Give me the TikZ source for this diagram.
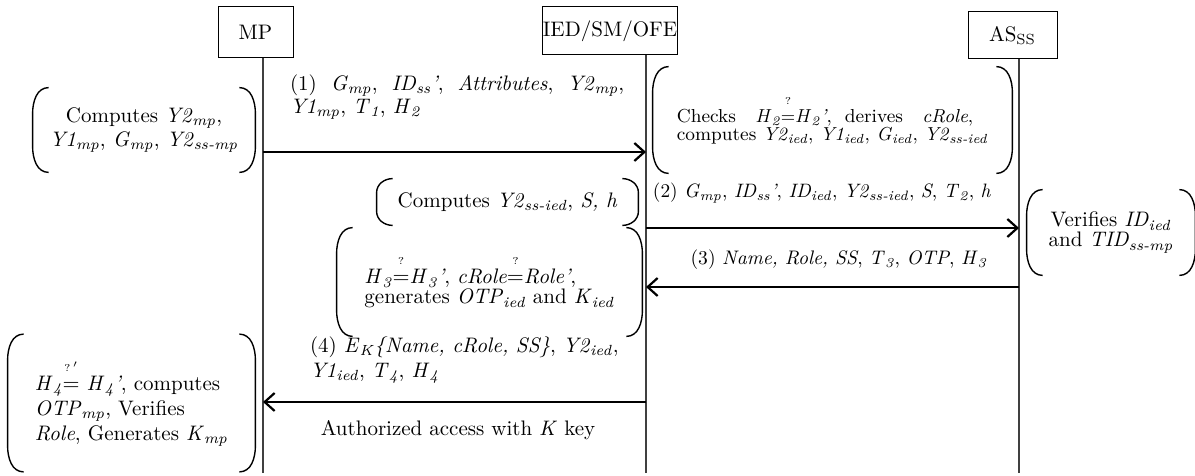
\documentclass[tikz,border=0pt]{standalone}
\usepackage{tikz}
\usetikzlibrary{arrows.meta, positioning}
\newcommand{\vv}[2]{\textit{#1}\textsubscript{\textit{#2}}}
\newcommand{\qeq}[1][?]{\ensuremath{\mathrel{\stackrel{\raisebox{3.5pt}{$\scriptscriptstyle #1$}}{=}}}}

\begin{document}
\begin{tikzpicture}[x=0.5pt, y=-0.5pt, font=\fontsize{10.5}{12}\selectfont,
  actor/.style={draw, line width=0.5pt, inner sep=0pt, align=center},
  lifeline/.style={line width=0.7pt, black!75},
  msg/.style={line width=1.1pt, -{Straight Barb[length=5pt, width=9pt, line width=1.1pt]}},
  bracket/.style={align=center, inner sep=0pt,
    append after command={\pgfextra{
      \draw[line width=0.7pt]
        ([xshift=8pt]\tikzlastnode.north west) to[out=180, in=90]
        ([yshift=-#1]\tikzlastnode.north west) -- ([yshift=#1]\tikzlastnode.south west)
        to[out=-90, in=180] ([xshift=8pt]\tikzlastnode.south west);
      \draw[line width=0.7pt]
        ([xshift=-8pt]\tikzlastnode.north east) to[out=0, in=90]
        ([yshift=-#1]\tikzlastnode.north east) -- ([yshift=#1]\tikzlastnode.south east)
        to[out=-90, in=0] ([xshift=-8pt]\tikzlastnode.south east);}}},
  bracket/.default=13pt]
\useasboundingbox (0,0) rectangle (1195,476);

% parties
\node[actor, minimum width=37.5pt, minimum height=25.5pt] (mp) at (255.5,32.5) {MP};
\node[actor, minimum width=52pt, minimum height=24pt] (ied) at (610,31) {IED/SM/OFE};
\node[actor, minimum width=44.5pt, minimum height=23.5pt] (as) at (1012.5,35.5) {AS\textsubscript{SS}};

\coordinate (mpL) at (263,473);
\coordinate (iedL) at (646,473);
\coordinate (asL) at (1019,473);
\draw[lifeline] (mp.south -| mpL) -- (mpL);
\draw[lifeline] (ied.south -| iedL) -- (iedL);
\draw[lifeline] (as.south -| asL) -- (asL);

% local computations
\node[bracket, minimum width=111pt, minimum height=42pt] (mpcomp) at (144,130)
  {Computes \vv{Y2}{mp},\\ \vv{Y1}{mp}, \vv{G}{mp}, \vv{Y2}{ss-mp}};
\node[bracket, minimum width=179.5pt, minimum height=53pt, align=left,
  font=\fontsize{9.4}{9}\selectfont] (iedchk) at (832.5,120)
  {Checks\ \ \ \vv{H}{2}\qeq\vv{H}{2}\textit{'},\ \ derives\ \ \ \textit{cRole},\\
   computes \vv{Y2}{ied}, \vv{Y1}{ied}, \vv{G}{ied}, \vv{Y2}{ss-ied}};
\node[bracket=7pt, minimum width=130.5pt, minimum height=23pt] (iedcomp) at (507.5,202)
  {Computes \vv{Y2}{ss-ied}, \textit{S, h}};
\node[bracket, minimum width=152.5pt, minimum height=54pt, align=left,
  font=\fontsize{10.5}{10}\selectfont] (iedver) at (489.5,282)
  {\vv{H}{3}\qeq\vv{H}{3}\textit{'}, \textit{cRole}\qeq\textit{Role'},\\
   generates \vv{OTP}{ied} and \vv{K}{ied}};
\node[bracket, minimum width=84pt, minimum height=42.5pt,
  font=\fontsize{10.5}{10}\selectfont] (asver) at (1111,232.5)
  {Verifies \vv{ID}{ied}\\ and \vv{TID}{ss-mp}};
\node[bracket, minimum width=123.5pt, minimum height=68.5pt, align=left,
  font=\fontsize{10.5}{12.5}\selectfont] (mpver) at (131.5,403)
  {\vv{H}{4}\qeq[?\,'] \vv{H}{4}\textit{'}, computes\\
   \vv{OTP}{mp}, Verifies\\ \textit{Role}, Generates \vv{K}{mp}};

% messages
\coordinate (mp1) at (263,152);   \coordinate (ied1) at (646,152);
\coordinate (ied2) at (646,228);  \coordinate (as2) at (1019,228);
\coordinate (as3) at (1019,287);  \coordinate (ied3) at (646,287);
\coordinate (ied4) at (646,402);  \coordinate (mp4) at (263,402);
\draw[msg] (mp1) -- (ied1);
\draw[msg] (ied2) -- (as2);
\draw[msg] (as3) -- (ied3);
\draw[msg] (ied4) -- (mp4);

\node[anchor=west, align=left, font=\fontsize{10.5}{10}\selectfont] (m1) at (283,97)
  {(1)\ \ \vv{G}{mp},\ \ \vv{ID}{ss}\textit{'},\ \ \textit{Attributes},\ \ \vv{Y2}{mp},\\
   \vv{Y1}{mp}, \vv{T}{1}, \vv{H}{2}};
\node[font=\fontsize{9.7}{11}\selectfont] (m2) at (822,193)
  {(2) \vv{G}{mp}, \vv{ID}{ss}\textit{'}, \vv{ID}{ied}, \vv{Y2}{ss-ied}, \textit{S}, \vv{T}{2}, \textit{h}};
\node[font=\fontsize{9.8}{11}\selectfont] (m3) at (839,260)
  {(3) \textit{Name, Role, SS}, \vv{T}{3}, \textit{OTP}, \vv{H}{3}};
\node[anchor=west, align=left, font=\fontsize{10.5}{12.5}\selectfont] (m4) at (303,360)
  {(4) \vv{E}{K}\textit{\{Name, cRole, SS\}}, \vv{Y2}{ied},\\
   \vv{Y1}{ied}, \vv{T}{4}, \vv{H}{4}};
\node (m5) at (458,430) {Authorized access with \textit{K} key};
\end{tikzpicture}
\end{document}
